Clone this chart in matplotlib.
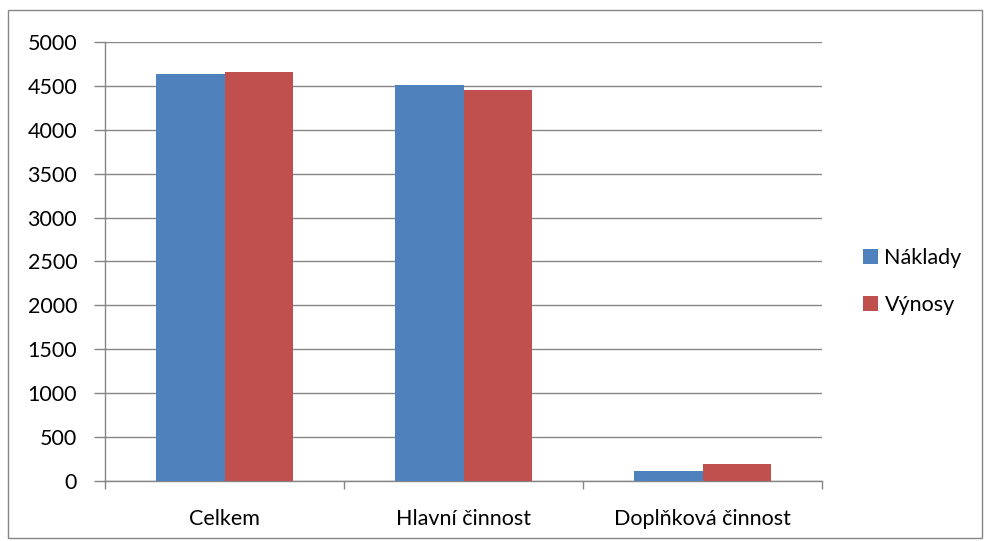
import matplotlib.pyplot as plt
import numpy as np
from matplotlib.patches import Rectangle

# Náklady a výnosy podle činnosti
categories = ["Celkem", "Hlavní činnost", "Doplňková činnost"]
naklady = [4630, 4515, 110]
vynosy = [4660, 4455, 195]
series_names = ["Náklady", "Výnosy"]

plt.rcParams["font.family"] = ["Lato", "DejaVu Sans"]

fig = plt.figure(figsize=(9.85, 5.41), dpi=100)
ax = fig.add_axes([0.1066, 0.111, 0.728, 0.8114])

# chart border
fig.patches.append(Rectangle((0.008, 0.006), 0.989, 0.975, transform=fig.transFigure,
                             fill=False, edgecolor="#868686", linewidth=1.0))

x = np.arange(len(categories))
w = 0.285
ax.bar(x - w / 2, naklady, w, color="#4f81bd", label=series_names[0], zorder=3)
ax.bar(x + w / 2, vynosy, w, color="#c0504d", label=series_names[1], zorder=3)

ax.set_xlim(-0.5, 2.5)
ax.set_ylim(0, 5000)
ax.set_yticks(range(0, 5001, 500))
ax.grid(axis="y", color="#868686", linewidth=1.0, zorder=0)

ax.set_xticks(x)
ax.set_xticklabels(categories)
ax.set_xticks([-0.5, 0.5, 1.5, 2.5], minor=True)
ax.tick_params(axis="x", which="major", length=0, pad=20, labelsize=15.5)
ax.tick_params(axis="x", which="minor", length=6, color="#868686", width=1)
ax.tick_params(axis="y", length=8, color="#868686", width=1, labelsize=15.5, pad=12)

for side in ("top", "right"):
    ax.spines[side].set_visible(False)
for side in ("left", "bottom"):
    ax.spines[side].set_color("#868686")
    ax.spines[side].set_linewidth(1.0)

ax.legend(loc="center left", bbox_to_anchor=(1.03, 0.455), frameon=False,
          fontsize=15.5, handlelength=0.7, handleheight=0.7,
          handletextpad=0.3, labelspacing=1.25)

fig.savefig("out.png", dpi=100)
